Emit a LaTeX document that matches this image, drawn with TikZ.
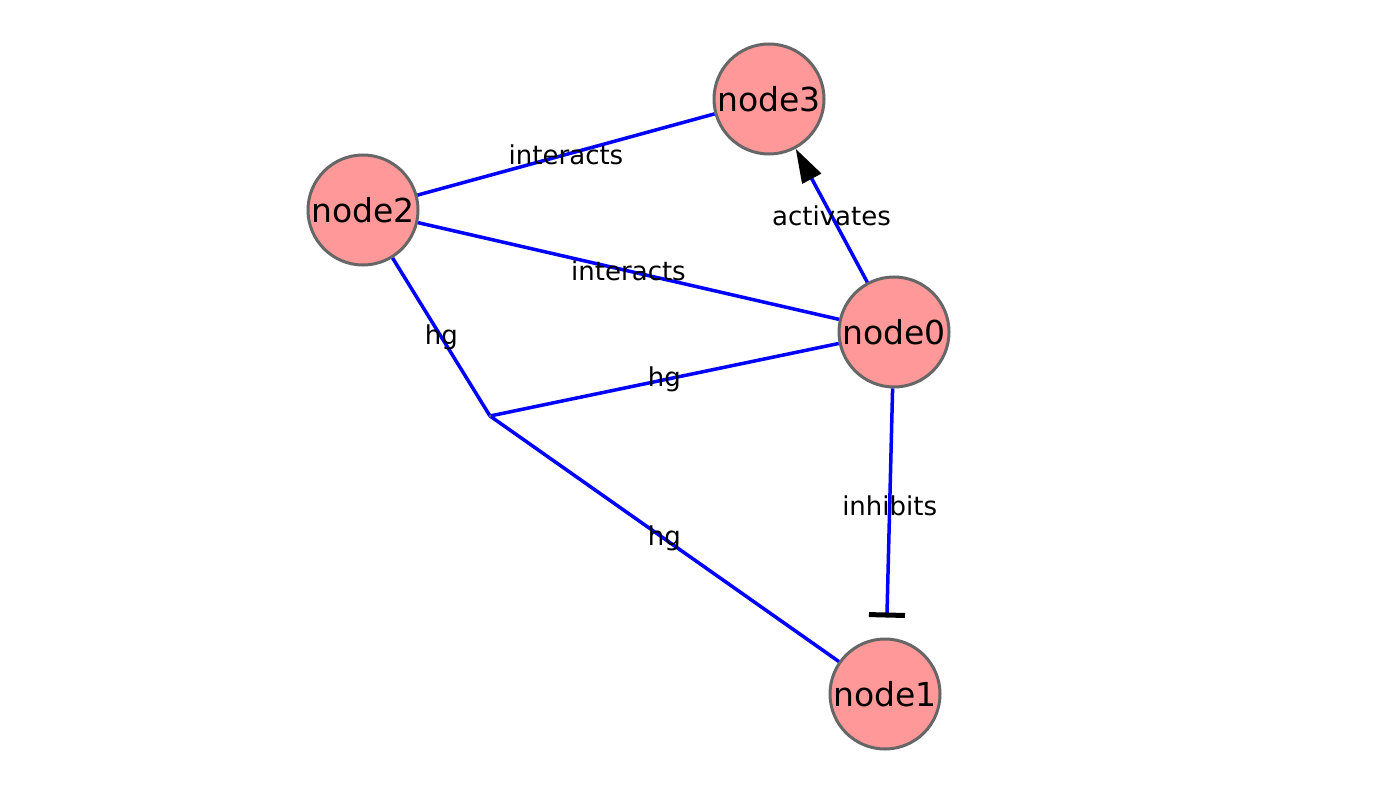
\documentclass[tikz,border=0pt]{standalone}
\usepackage{fontspec}
\setmainfont{DejaVu Sans}
\usetikzlibrary{arrows.meta, positioning}
\tikzset{
  gene/.style={circle, draw=black!60, line width=3pt, fill={rgb,255:red,255;green,153;blue,153},
    minimum size=110pt, inner sep=0pt, font=\fontsize{33}{36}\selectfont},
  link/.style={draw={rgb,255:red,0;green,0;blue,255}, line width=3.5pt},
  elabel/.style={font=\fontsize{26}{28}\selectfont, inner sep=1pt}
}

\begin{document}
\begin{tikzpicture}[x=1pt, y=-1pt, >=Latex]
  \useasboundingbox (0,0) rectangle (1380,794);

  \node[gene] (n3) at (769,99) {node3};
  \node[gene] (n2) at (363,210) {node2};
  \node[gene] (n0) at (894,332) {node0};
  \node[gene] (n1) at (885,694) {node1};
  \coordinate (hub) at (490,416);

  \draw[link] (n2) -- node[elabel] {interacts} (n3);
  \draw[link] (n2) -- node[elabel] {interacts} (n0);
  \draw[link, -{Triangle[color=black, length=34pt, width=21pt]}] (n0) -- node[elabel] {activates} (n3);
  \draw[link, -{Bar[color=black, width=36pt, line width=5pt]}, shorten >=20pt] (n0) -- node[elabel, pos=0.47] {inhibits} (n1);

  % hyperedge
  \draw[link] (hub) -- node[elabel] {hg} (n2);
  \draw[link] (hub) -- node[elabel] {hg} (n0);
  \draw[link] (hub) -- node[elabel] {hg} (n1);
  \fill[black!60] (hub) circle (1.5pt);
\end{tikzpicture}
\end{document}
